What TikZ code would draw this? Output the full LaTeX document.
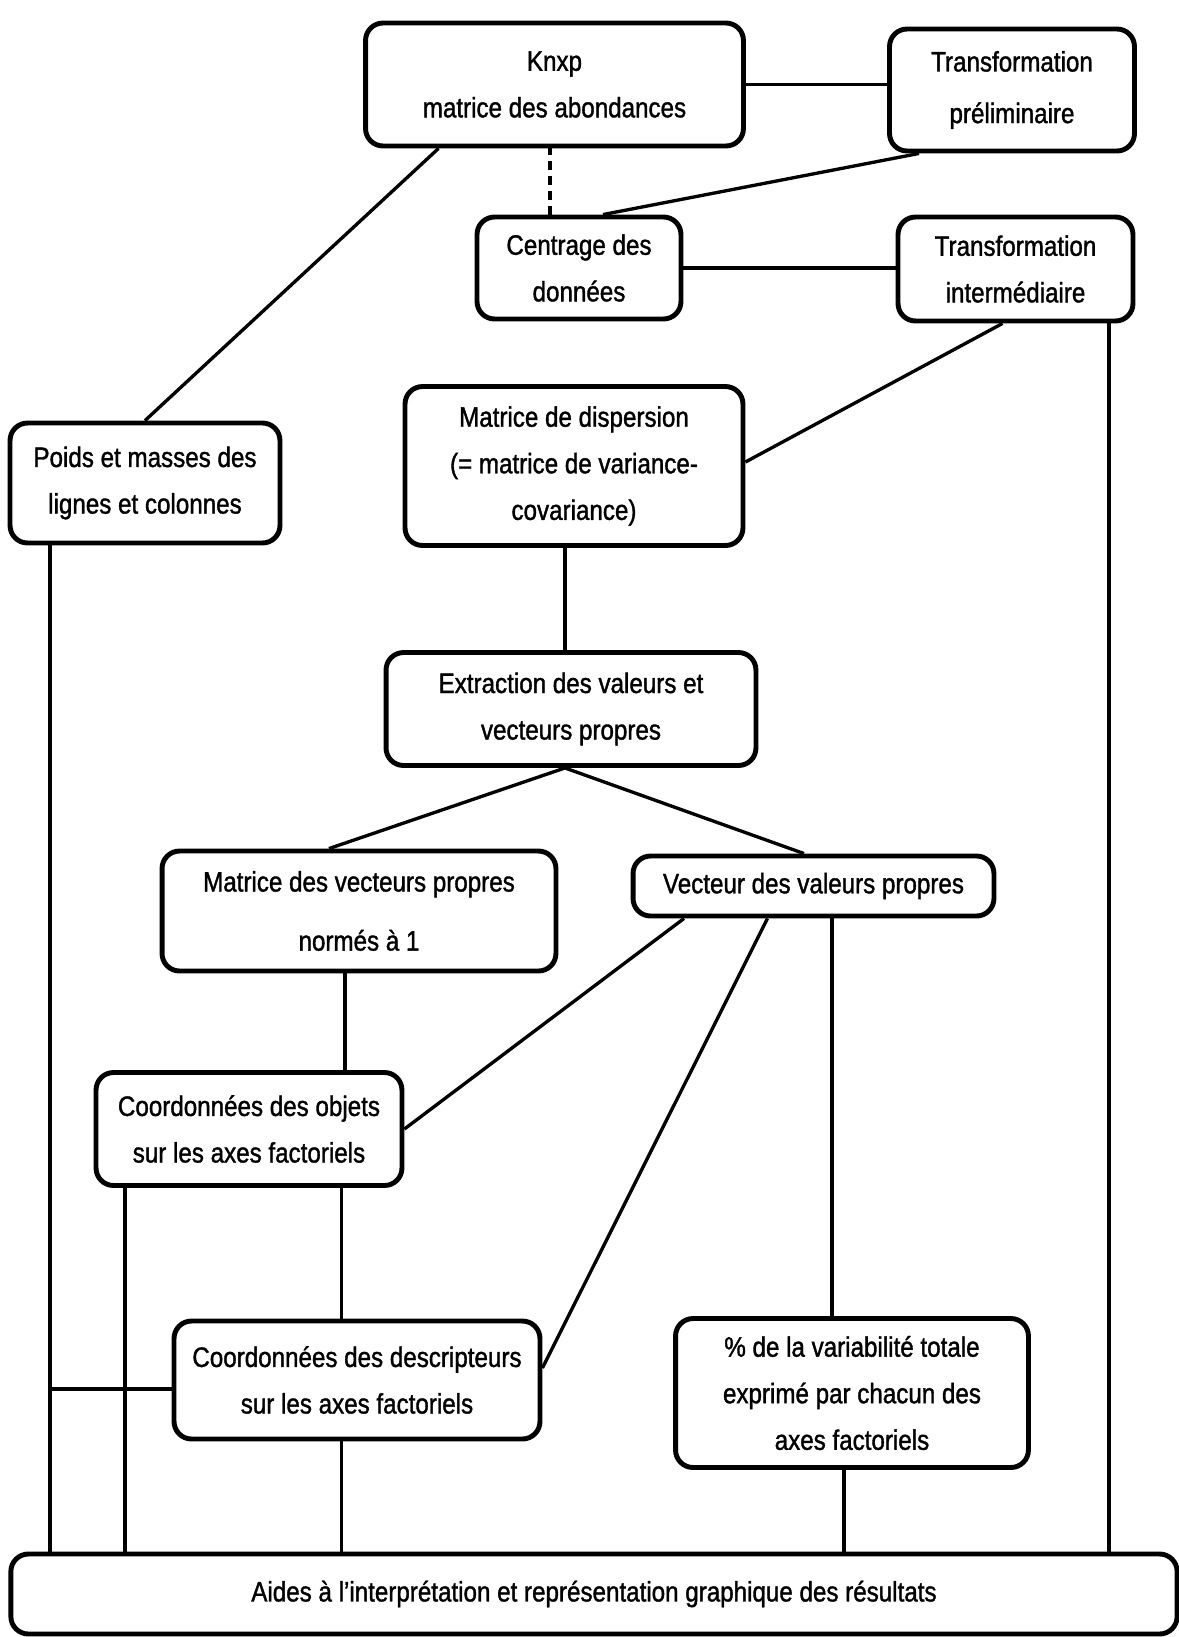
\documentclass[tikz,border=0pt]{standalone}
\usepackage{fontspec}
\setmainfont{Liberation Sans}[FakeStretch=0.86, FakeBold=1.3]
\usetikzlibrary{calc}

\begin{document}
\begin{tikzpicture}[x=0.02cm, y=-0.02cm,
  box/.style={draw, line width=2.8pt, rounded corners=0.35cm, align=center, inner sep=0pt,
    font=\fontsize{16}{26.5}\selectfont},
  link/.style={line width=1.9pt}]
\useasboundingbox (0,0) rectangle (1179,1637);

\node [box, minimum width=7.56cm, minimum height=2.46cm] (knxp) at (554.5,84.5) {Knxp\\matrice des abondances};
\node [box, minimum width=4.9cm, minimum height=2.44cm] (prelim) at (1012,90) {Transformation\\[0.1cm]préliminaire};
\node [box, minimum width=4.08cm, minimum height=2.04cm] (centrage) at (579,268) {Centrage des\\données};
\node [box, minimum width=4.7cm, minimum height=2.08cm] (interm) at (1015.5,269) {Transformation\\intermédiaire};
\node [box, minimum width=5.4cm, minimum height=2.4cm] (poids) at (145,483) {Poids et masses des\\lignes et colonnes};
\node [box, minimum width=6.76cm, minimum height=3.18cm] (disp) at (574,466) {Matrice de dispersion\\(= matrice de variance-\\covariance)};
\node [box, minimum width=7.4cm, minimum height=2.26cm] (extract) at (571,709) {Extraction des valeurs et\\vecteurs propres};
\node [box, minimum width=7.88cm, minimum height=2.4cm] (vecp) at (359,911) {Matrice des vecteurs propres\\[0.25cm]normés à 1};
\node [box, minimum width=7.22cm, minimum height=1.2cm] (valp) at (813.5,886) {Vecteur des valeurs propres};
\node [box, minimum width=6.12cm, minimum height=2.26cm] (objets) at (249,1129) {Coordonnées des objets\\sur les axes factoriels};
\node [box, minimum width=7.32cm, minimum height=2.36cm] (descr) at (357,1380) {Coordonnées des descripteurs\\sur les axes factoriels};
\node [box, minimum width=7.06cm, minimum height=2.98cm] (pct) at (852,1393) {\% de la variabilité totale\\exprimé par chacun des\\axes factoriels};
\node [box, minimum width=23.33cm, minimum height=1.6cm] (aides) at (594,1594) {Aides à l'interprétation et représentation graphique des résultats};

% top part
\coordinate (dot) at ($(centrage.north)+(-29,0)$);
\draw[link] (knxp.east) -- (prelim.west |- knxp.east);
\draw[link, dash pattern=on 5pt off 3.5pt] (dot) -- (dot |- knxp.south);
\draw[link] ($(prelim.south)+(-93,0)$) -- ($(centrage.north)+(24,0)$);
\draw[link] (centrage.east) -- (interm.west |- centrage.east);
\draw[link] ($(knxp.south)+(-116,0)$) -- (poids.north);
\draw[link] ($(interm.south)+(-13,0)$) -- ($(disp.east)+(0,-4)$);

% middle part
\coordinate (ds) at ($(disp.south)+(-9,0)$);
\coordinate (split) at ($(extract.south)+(-6,0)$);
\coordinate (vs) at ($(vecp.south)+(-14,0)$);
\coordinate (vp) at ($(valp.south)+(18.5,0)$);
\coordinate (os) at ($(objets.south)+(92.5,0)$);
\draw[link] (ds) -- (ds |- extract.north);
\draw[link] (split) -- ($(vecp.north)+(-30,0)$);
\draw[link] (split) -- ($(valp.north)+(-9.5,0)$);
\draw[link] (vs) -- (vs |- objets.north);
\draw[link] ($(valp.south)+(-129.5,0)$) -- (objets.east);
\draw[link] ($(valp.south)+(-46,0)$) -- ($(descr.east)+(0,-12)$);
\draw[link] (vp) -- (vp |- pct.north);
\draw[link] (os) -- (os |- descr.north);

% down to the bottom box
\coordinate (lft) at ($(poids.south)+(-95,0)$);
\coordinate (cdl) at ($(descr.west)+(0,9)$);
\coordinate (ol) at ($(objets.south)+(-124,0)$);
\coordinate (dsb) at ($(descr.south)+(-15.5,0)$);
\coordinate (pb) at ($(pct.south)+(-8,0)$);
\coordinate (rgt) at ($(interm.south)+(93.5,0)$);
\draw[link] (lft) -- (lft |- aides.north);
\draw[link] (cdl) -- (lft |- cdl);
\draw[link] (ol) -- (ol |- aides.north);
\draw[link] (dsb) -- (dsb |- aides.north);
\draw[link] (pb) -- (pb |- aides.north);
\draw[link] (rgt) -- (rgt |- aides.north);
\end{tikzpicture}
\end{document}
